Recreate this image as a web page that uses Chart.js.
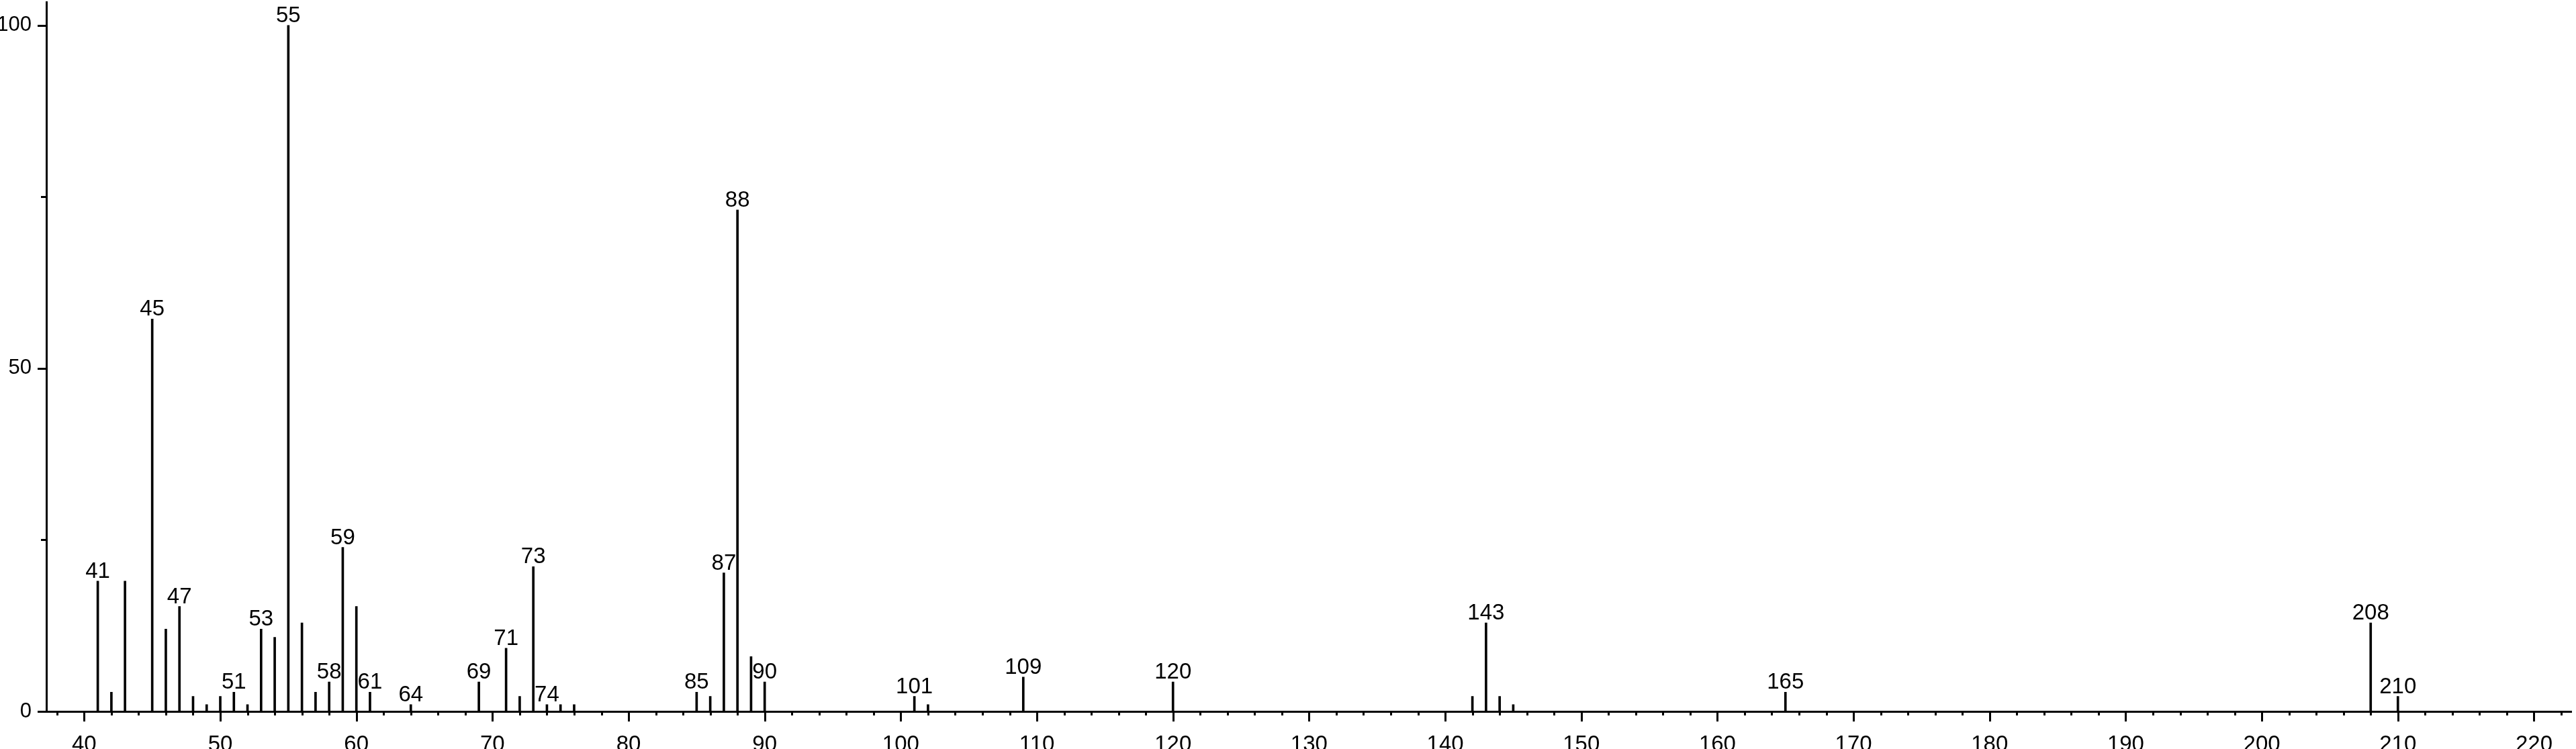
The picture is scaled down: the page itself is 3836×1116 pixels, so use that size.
<!DOCTYPE html>
<html>
<head>
<meta charset="utf-8">
<script src="https://cdn.jsdelivr.net/npm/chart.js@4.4.1/dist/chart.umd.min.js"></script>
<style>
  html, body { margin: 0; padding: 0; background: #fff; }
  #wrap { width: 3836px; height: 1116px; }
</style>
</head>
<body>
<div id="wrap"><canvas id="spectrum" width="3836" height="1116"></canvas></div>
<script>
// m/z of each peak and its relative intensity (%)
const mzValues = [41, 42, 43, 45, 46, 47, 48, 49, 50, 51, 52, 53, 54, 55, 56, 57, 58, 59, 60, 61,
  64, 69, 71, 72, 73, 74, 75, 76, 85, 86, 87, 88, 89, 90, 101, 102, 109, 120,
  142, 143, 144, 145, 165, 208, 210];
const intensities = [19.0, 2.8, 19.0, 57.2, 12.0, 15.3, 2.2, 1.0, 2.2, 2.8, 1.0, 12.0, 10.8, 100, 12.9, 2.8, 4.3, 23.9, 15.3, 2.8,
  1.0, 4.3, 9.2, 2.2, 21.1, 1.0, 1.0, 1.0, 2.8, 2.2, 20.2, 73.1, 8.0, 4.3, 2.2, 1.0, 5.0, 4.3,
  2.2, 12.9, 2.2, 1.0, 2.8, 12.9, 2.2];
// peaks that carry an m/z label
const labeledPeaks = [41, 45, 47, 51, 53, 55, 58, 59, 61, 64, 69, 71, 73, 74, 85, 87, 88, 90,
  101, 109, 120, 143, 165, 208, 210];
// tick labels shown on the axes
const xTickLabels = [40, 50, 60, 70, 80, 90, 100, 110, 120, 130, 140, 150, 160, 170, 180, 190, 200, 210, 220];
const yTickLabels = [0, 50, 100];

const FONT = "'Liberation Sans', Arial, Helvetica, sans-serif";
Chart.defaults.font.family = FONT;
Chart.defaults.font.size = 33;
Chart.defaults.color = '#000';

// tick marks of two lengths, drawn from the scales
const tickMarks = {
  id: 'tickMarks',
  afterDraw(chart) {
    const {ctx, chartArea, scales: {x, y}} = chart;
    ctx.save();
    ctx.strokeStyle = '#000';
    ctx.lineWidth = 3;
    ctx.beginPath();
    x.ticks.forEach(t => {
      const px = Math.round(x.getPixelForValue(t.value)) + 0.5;
      const len = xTickLabels.includes(t.value) ? 15 : 6;
      ctx.moveTo(px, chartArea.bottom);
      ctx.lineTo(px, chartArea.bottom + len);
    });
    y.ticks.forEach(t => {
      const py = Math.round(y.getPixelForValue(t.value)) + 0.5;
      const len = yTickLabels.includes(t.value) ? 13 : 8;
      ctx.moveTo(chartArea.left, py);
      ctx.lineTo(chartArea.left - len, py);
    });
    ctx.stroke();
    ctx.restore();
  }
};

// m/z labels above the labelled peaks
const peakLabels = {
  id: 'peakLabels',
  afterDatasetsDraw(chart) {
    const {ctx, scales: {x, y}} = chart;
    ctx.save();
    ctx.fillStyle = '#000';
    ctx.font = '33px ' + FONT;
    ctx.textAlign = 'center';
    ctx.textBaseline = 'alphabetic';
    labeledPeaks.forEach(mz => {
      const i = mzValues.indexOf(mz);
      ctx.fillText(String(mz), x.getPixelForValue(mz), y.getPixelForValue(intensities[i]) - 5);
    });
    ctx.restore();
  }
};

new Chart(document.getElementById('spectrum'), {
  type: 'bar',
  data: {
    datasets: [{
      data: mzValues.map((m, i) => ({x: m, y: intensities[i]})),
      backgroundColor: '#000',
      borderWidth: 0,
      barThickness: 3
    }]
  },
  options: {
    responsive: false,
    animation: false,
    devicePixelRatio: 1,
    layout: { padding: { top: 3, right: 1, left: 0, bottom: 0 } },
    plugins: {
      legend: false,
      tooltip: { enabled: false }
    },
    scales: {
      x: {
        type: 'linear',
        offset: false,
        min: 37.22,
        max: 222.76,
        grid: { display: false, offset: false },
        border: { display: true, color: '#000', width: 3 },
        ticks: {
          stepSize: 2,
          includeBounds: false,
          autoSkip: false,
          maxRotation: 0,
          padding: 22,
          callback: v => xTickLabels.includes(v) ? String(v) : ''
        },
        afterFit: s => { s.height = 56; }
      },
      y: {
        min: 0,
        max: 103.4,
        grid: { display: false },
        border: { display: true, color: '#000', width: 3 },
        ticks: {
          stepSize: 25,
          includeBounds: false,
          autoSkip: false,
          padding: 14,
          font: { size: 31 },
          callback: v => yTickLabels.includes(v) ? String(v) : ''
        },
        afterFit: s => { s.width = 69; s.paddingTop = 0; s.paddingBottom = 0; }
      }
    }
  },
  plugins: [tickMarks, peakLabels]
});
</script>
</body>
</html>
